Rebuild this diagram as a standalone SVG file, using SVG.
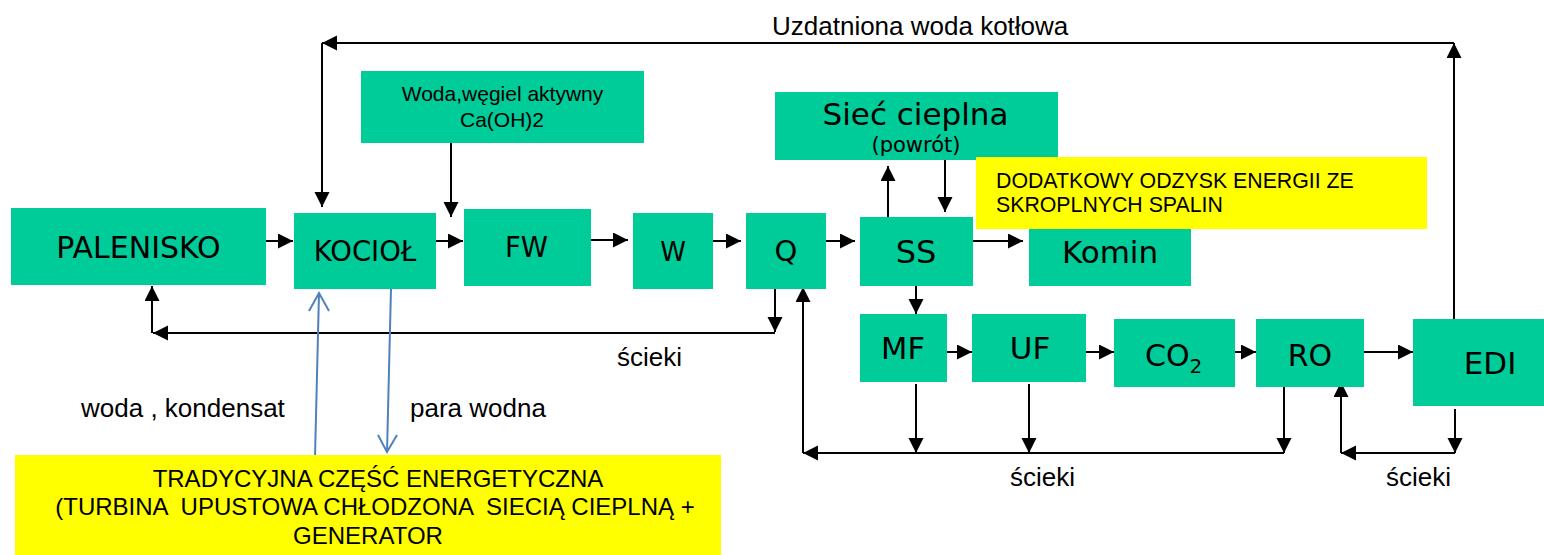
<svg xmlns="http://www.w3.org/2000/svg" width="1544" height="555" viewBox="0 0 1544 555">
<style>
.box{fill:#00CC99}
.yel{fill:#FFFF00}
.nt{font-family:"DejaVu Sans",Verdana,sans-serif;fill:#000;text-anchor:middle}
.lt{font-family:"Liberation Sans",Arial,sans-serif;fill:#000}
.c{stroke:#000;stroke-width:2;fill:none}
.b{stroke:#4F81BD;stroke-width:2;fill:none}
</style>
<defs>
<marker id="ah" markerUnits="userSpaceOnUse" markerWidth="16" markerHeight="16" refX="15" refY="7.5" orient="auto">
<path d="M0,0 L15,7.5 L0,15 Z" fill="#000"/>
</marker>
</defs>
<rect width="1544" height="555" fill="#fff"/>

<g id="connectors">
<path class="c" d="M266,241 H293" marker-end="url(#ah)"/>
<path class="c" d="M436,241 H463" marker-end="url(#ah)"/>
<path class="c" d="M591,240 H628" marker-end="url(#ah)"/>
<path class="c" d="M713,241 H741" marker-end="url(#ah)"/>
<path class="c" d="M826,241 H855" marker-end="url(#ah)"/>
<path class="c" d="M973,241 H1023" marker-end="url(#ah)"/>
<path class="c" d="M451,143 V217" marker-end="url(#ah)"/>
<path class="c" d="M1454,319 V43" marker-end="url(#ah)"/>
<path class="c" d="M1454,43 H322" marker-end="url(#ah)"/>
<path class="c" d="M322,43 V207" marker-end="url(#ah)"/>
<path class="c" d="M888,217 V166" marker-end="url(#ah)"/>
<path class="c" d="M945,160 V212" marker-end="url(#ah)"/>
<path class="c" d="M775,289 V332" marker-end="url(#ah)"/>
<path class="c" d="M775,333 H153" marker-end="url(#ah)"/>
<path class="c" d="M152,333 V286" marker-end="url(#ah)"/>
<path class="c" d="M916,286 V314" marker-end="url(#ah)"/>
<path class="c" d="M947,352 H972" marker-end="url(#ah)"/>
<path class="c" d="M1086,352 H1114" marker-end="url(#ah)"/>
<path class="c" d="M1235,352 H1256" marker-end="url(#ah)"/>
<path class="c" d="M1361,352 H1413" marker-end="url(#ah)"/>
<path class="c" d="M916,384 V453" marker-end="url(#ah)"/>
<path class="c" d="M1029,384 V453" marker-end="url(#ah)"/>
<path class="c" d="M1284,387 V453" marker-end="url(#ah)"/>
<path class="c" d="M1284,453 H803" marker-end="url(#ah)"/>
<path class="c" d="M803,453 V287" marker-end="url(#ah)"/>
<path class="c" d="M1455,409 V453" marker-end="url(#ah)"/>
<path class="c" d="M1455,453 H1341" marker-end="url(#ah)"/>
<path class="c" d="M1341,453 V382" marker-end="url(#ah)"/>
<path class="b" d="M315,457 L319,293 M309,311 L319,293 L329,311"/>
<path class="b" d="M391,288 L387,452 M378,435 L387,452 L397,435"/>
</g>

<g id="palenisko"><rect class="box" x="11" y="208" width="255" height="77"/><text class="nt" x="138.5" y="258" font-size="30">PALENISKO</text></g>
<g id="kociol"><rect class="box" x="294" y="213" width="142" height="76"/><text class="nt" x="365" y="261" font-size="27.5">KOCIOŁ</text></g>
<g id="woda"><rect class="box" x="361" y="71" width="283" height="72"/><text class="lt" x="502.5" y="101" font-size="21" text-anchor="middle">Woda,węgiel aktywny</text><text class="lt" x="502" y="127" font-size="21" text-anchor="middle">Ca(OH)2</text></g>
<g id="fw"><rect class="box" x="464" y="209" width="127" height="77"/><text class="nt" x="526.5" y="257" font-size="27.5">FW</text></g>
<g id="w"><rect class="box" x="633" y="213" width="80" height="76"/><text class="nt" x="673" y="261" font-size="26">W</text></g>
<g id="q"><rect class="box" x="746" y="213" width="80" height="76"/><text class="nt" x="786" y="261" font-size="29">Q</text></g>
<g id="ss"><rect class="box" x="860" y="217" width="113" height="69"/><text class="nt" x="916" y="263" font-size="32">SS</text></g>
<g id="komin"><rect class="box" x="1029" y="217" width="162" height="69"/><text class="nt" x="1110" y="263" font-size="31">Komin</text></g>
<g id="siec"><rect class="box" x="775" y="92" width="283" height="68"/><text class="nt" x="915.5" y="125" font-size="31">Sieć cieplna</text><text class="nt" x="916" y="152" font-size="21">(powrót)</text></g>
<g id="odzysk"><rect class="yel" x="976" y="157" width="451" height="72"/><text class="lt" x="996" y="188" font-size="21.3">DODATKOWY ODZYSK ENERGII ZE</text><text class="lt" x="996" y="212" font-size="21.3">SKROPLNYCH SPALIN</text></g>
<g id="mf"><rect class="box" x="860" y="314" width="87" height="68"/><text class="nt" x="903" y="359" font-size="30.5">MF</text></g>
<g id="uf"><rect class="box" x="972" y="314" width="114" height="68"/><text class="nt" x="1030" y="359" font-size="31">UF</text></g>
<g id="co2"><rect class="box" x="1114" y="319" width="121" height="68"/><text class="nt" x="1145" y="366" font-size="30" style="text-anchor:start">CO<tspan font-size="20" dy="7">2</tspan></text></g>
<g id="ro"><rect class="box" x="1256" y="319" width="108" height="68"/><text class="nt" x="1310" y="366" font-size="30">RO</text></g>
<g id="edi"><rect class="box" x="1413" y="319" width="131" height="87"/><text class="nt" x="1490" y="374" font-size="31">EDI</text></g>
<g id="tradycyjna"><rect class="yel" x="15" y="455" width="706" height="100"/>
<text class="lt" x="378" y="487" font-size="24" text-anchor="middle">TRADYCYJNA CZĘŚĆ ENERGETYCZNA</text>
<text class="lt" x="375" y="515" font-size="24" text-anchor="middle" xml:space="preserve" style="white-space:pre">(TURBINA  UPUSTOWA CHŁODZONA  SIECIĄ CIEPLNĄ +</text>
<text class="lt" x="368" y="544" font-size="24" text-anchor="middle">GENERATOR</text></g>

<g id="labels">
<text class="lt" x="772" y="35" font-size="26">Uzdatniona woda kotłowa</text>
<text class="lt" x="617" y="366" font-size="26">ścieki</text>
<text class="lt" x="81" y="417" font-size="26">woda , kondensat</text>
<text class="lt" x="410" y="417" font-size="26">para wodna</text>
<text class="lt" x="1010" y="486" font-size="26">ścieki</text>
<text class="lt" x="1386" y="486" font-size="26">ścieki</text>
</g>
</svg>
